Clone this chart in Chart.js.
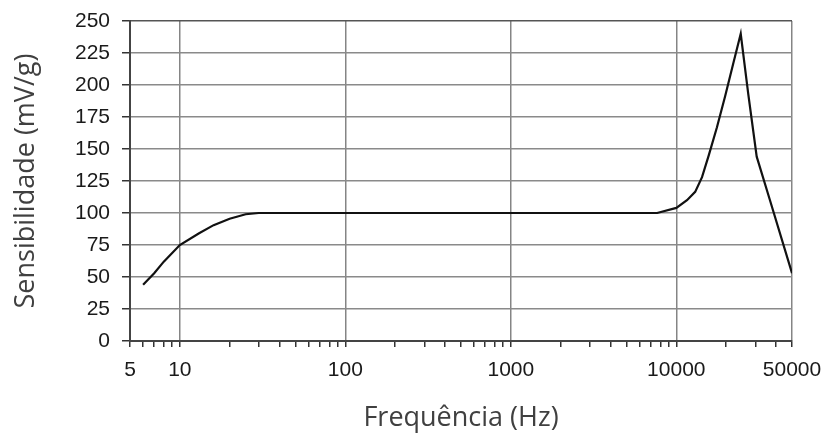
<!DOCTYPE html>
<html>
<head>
<meta charset="utf-8">
<script src="https://cdn.jsdelivr.net/npm/chart.js@4/dist/chart.umd.min.js"></script>
<style>
  html, body { margin: 0; padding: 0; background: #fff; }
  #wrap { width: 823px; height: 437px; }
</style>
</head>
<body>
<div id="wrap"><canvas id="sensChart"></canvas></div>
<script>
const freqHz = [6, 7, 8, 10, 13, 16, 20, 25, 30, 100, 1000, 7660, 10000, 11600, 13000, 14300, 15700, 17600, 19700, 22100, 24500, 27200, 30600, 36800, 50000];
const sensitivity = [44, 53, 62, 75, 84, 90.5, 95.5, 99, 100, 100, 100, 100, 104, 110, 116.5, 128, 145, 167, 191, 217, 240, 193, 144, 110, 53];

const xTickValues = [5, 6, 7, 8, 9, 10, 20, 30, 40, 50, 60, 70, 80, 90, 100, 200, 300, 400, 500, 600, 700, 800, 900,
  1000, 2000, 3000, 4000, 5000, 6000, 7000, 8000, 9000, 10000, 20000, 30000, 40000, 50000];
const xLabels = [5, 10, 100, 1000, 10000, 50000];
const xGridLines = [10, 100, 1000, 10000, 50000];

const tickFont = { family: "'Liberation Sans', Arial, sans-serif", size: 21 };
const titleFont = { family: "'Open Sans', sans-serif", size: 27 };

new Chart(document.getElementById("sensChart"), {
  type: "line",
  data: {
    datasets: [{
      data: freqHz.map((f, i) => ({ x: f, y: sensitivity[i] })),
      borderColor: "#111",
      borderWidth: 2.2,
      pointRadius: 0,
      tension: 0,
      fill: false
    }]
  },
  options: {
    responsive: true,
    maintainAspectRatio: false,
    animation: false,
    layout: { padding: { top: 21, right: 0, left: 0, bottom: 0 } },
    plugins: { legend: { display: false }, tooltip: { enabled: false } },
    scales: {
      x: {
        type: "logarithmic",
        min: 5,
        max: 50000,
        afterBuildTicks: scale => {
          scale.ticks = xTickValues.map(v => ({ value: v }));
        },
        afterFit: scale => {
          scale.height = 96;
          scale.paddingLeft = 0;
          scale.paddingRight = 31;
        },
        ticks: {
          autoSkip: false,
          maxRotation: 0,
          padding: 11,
          color: "#1a1a1a",
          font: tickFont,
          callback: v => xLabels.includes(v) ? String(v) : ""
        },
        grid: {
          color: ctx => xGridLines.includes(ctx.tick && ctx.tick.value) ? "#858585" : "rgba(0,0,0,0)",
          lineWidth: 1.5,
          tickColor: "#333",
          tickLength: 6
        },
        border: { color: "#444", width: 2 },
        title: {
          display: true,
          text: "Frequência (Hz)",
          color: "#404040",
          font: titleFont,
          padding: { top: 0, bottom: 2 }
        }
      },
      y: {
        min: 0,
        max: 250,
        afterFit: scale => {
          scale.width = 130;
          scale.paddingTop = 0;
          scale.paddingBottom = 0;
        },
        ticks: {
          stepSize: 25,
          padding: 12,
          color: "#1a1a1a",
          font: tickFont
        },
        grid: {
          color: ctx => ctx.tick && ctx.tick.value === 250 ? "#555" : "#8a8a8a",
          lineWidth: 1.5,
          tickColor: "#333",
          tickLength: 8
        },
        border: { color: "#444", width: 2 },
        title: {
          display: true,
          text: "Sensibilidade (mV/g)",
          color: "#404040",
          font: titleFont,
          padding: { top: 10, bottom: 0 }
        }
      }
    }
  }
});
</script>
</body>
</html>
